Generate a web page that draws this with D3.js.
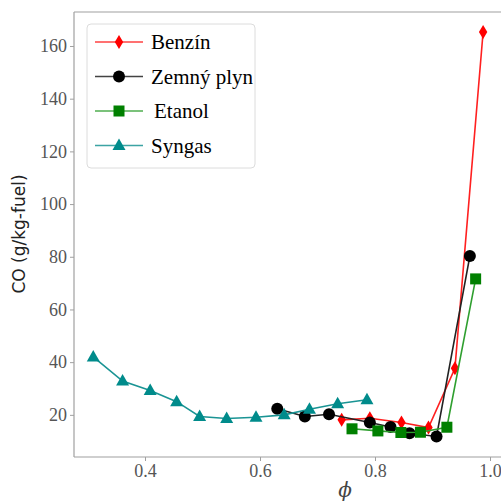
<!DOCTYPE html>
<html><head><meta charset="utf-8">
<script src="https://cdn.jsdelivr.net/npm/d3@7"></script>
<style>body{margin:0;background:#fff}svg{display:block}</style>
</head><body><svg id="c" width="501" height="502"></svg>
<script>
const benzinX = [0.742, 0.791, 0.846, 0.893, 0.939, 0.988];
const benzinY = [18.1, 18.7, 17.1, 15.2, 37.7, 165.3];
const plynX = [0.630, 0.678, 0.720, 0.791, 0.827, 0.860, 0.907, 0.965];
const plynY = [22.3, 19.4, 20.2, 17.1, 15.4, 13.0, 11.8, 80.3];
const etanolX = [0.760, 0.805, 0.845, 0.879, 0.925, 0.975];
const etanolY = [14.7, 13.9, 13.3, 13.4, 15.3, 71.6];
const syngasX = [0.310, 0.361, 0.409, 0.455, 0.495, 0.542, 0.593, 0.642, 0.686, 0.735, 0.786];
const syngasY = [42.0, 32.8, 29.2, 25.0, 19.4, 18.6, 19.1, 20.0, 22.1, 24.2, 25.7];
const xTicks = [0.4, 0.6, 0.8, 1.0];
const yTicks = [20, 40, 60, 80, 100, 120, 140, 160];
const seriesNames = ["Benzín", "Zemný plyn", "Etanol", "Syngas"];

const series = [
  {name: seriesNames[0], xs: benzinX, ys: benzinY, color: "#ff0000", line: "#ff2020", sym: "diamond"},
  {name: seriesNames[1], xs: plynX, ys: plynY, color: "#000000", line: "#222222", sym: "circle"},
  {name: seriesNames[2], xs: etanolX, ys: etanolY, color: "#008000", line: "#2f9f2f", sym: "square"},
  {name: seriesNames[3], xs: syngasX, ys: syngasY, color: "#008b8b", line: "#1a9494", sym: "triangle"}
];

const svg = d3.select("#c");
const L = 74, T = 12, B = 457;
const x = d3.scaleLinear().domain([0.2765, 1.025]).range([L, L + (1.025 - 0.2765) * 575]);
const y = d3.scaleLinear().domain([4, 172.9]).range([B, T]);

function marker(g, sym, color) {
  if (sym === "circle") g.append("circle").attr("r", 6).attr("fill", color);
  else if (sym === "square") g.append("rect").attr("x", -5.5).attr("y", -5.5).attr("width", 11).attr("height", 11).attr("fill", color);
  else if (sym === "diamond") g.append("path").attr("d", "M0,-7 L4.2,0 L0,7 L-4.2,0Z").attr("fill", color);
  else if (sym === "triangle") g.append("path").attr("d", "M0,-7 L6.5,4.5 L-6.5,4.5Z").attr("fill", color);
}

// spines
svg.append("line").attr("x1", L).attr("x2", 501).attr("y1", T).attr("y2", T).attr("stroke", "#a0a0a0").attr("stroke-width", 1.2);
svg.append("line").attr("x1", L).attr("x2", L).attr("y1", T).attr("y2", B).attr("stroke", "#a0a0a0").attr("stroke-width", 1.2);
svg.append("line").attr("x1", L).attr("x2", 501).attr("y1", B).attr("y2", B).attr("stroke", "#a0a0a0").attr("stroke-width", 1.2);

// y axis
const yAxis = d3.axisLeft(y).tickValues(yTicks).tickSize(4).tickPadding(3);
const gy = svg.append("g").attr("transform", `translate(${L},0)`).call(yAxis);
gy.select(".domain").remove();
gy.selectAll("line").attr("stroke", "#a0a0a0");
gy.selectAll("text").attr("font-family", "'Liberation Serif', serif").attr("font-size", 18).attr("fill", "#555");

// x axis
const xAxis = d3.axisBottom(x).tickValues(xTicks).tickFormat(d3.format(".1f")).tickSize(4).tickPadding(3);
const gx = svg.append("g").attr("transform", `translate(0,${B})`).call(xAxis);
gx.select(".domain").remove();
gx.selectAll("line").attr("stroke", "#a0a0a0");
gx.selectAll("text").attr("font-family", "'Liberation Serif', serif").attr("font-size", 18).attr("fill", "#555");

// labels
svg.append("text").attr("transform", "translate(25,234) rotate(-90)").attr("text-anchor", "middle")
  .attr("font-family", "'DejaVu Sans', sans-serif").attr("font-size", 17).attr("fill", "#222").text("CO (g/kg-fuel)");
svg.append("text").attr("x", 345).attr("y", 497).attr("text-anchor", "middle")
  .attr("font-family", "'DejaVu Serif', serif").attr("font-style", "italic").attr("font-size", 20).attr("fill", "#444").text("ϕ");

// data
const line = d3.line().x(d => x(d[0])).y(d => y(d[1]));
series.forEach(s => {
  const pts = s.xs.map((v, i) => [v, s.ys[i]]);
  svg.append("path").attr("d", line(pts)).attr("fill", "none").attr("stroke", s.line).attr("stroke-width", 1.6);
  pts.forEach(p => {
    const g = svg.append("g").attr("transform", `translate(${x(p[0])},${y(p[1])})`);
    marker(g, s.sym, s.color);
  });
});

// legend
const lg = svg.append("g");
lg.append("rect").attr("x", 87).attr("y", 24).attr("width", 168).attr("height", 144).attr("rx", 4)
  .attr("fill", "#fff").attr("fill-opacity", 0.9).attr("stroke", "#dcdcdc");
series.forEach((s, i) => {
  const yy = 42 + i * 34.5;
  lg.append("line").attr("x1", 95).attr("x2", 143).attr("y1", yy).attr("y2", yy).attr("stroke", s.line).attr("stroke-width", 1.6).attr("stroke-opacity", 0.85);
  const g = lg.append("g").attr("transform", `translate(119,${yy})`);
  marker(g, s.sym, s.color);
  lg.append("text").attr("x", i === 2 ? 154 : 151).attr("y", yy + 7).attr("font-family", "'Liberation Serif', serif")
    .attr("font-size", 21).attr("fill", "#000").text(s.name);
});
</script></body></html>
